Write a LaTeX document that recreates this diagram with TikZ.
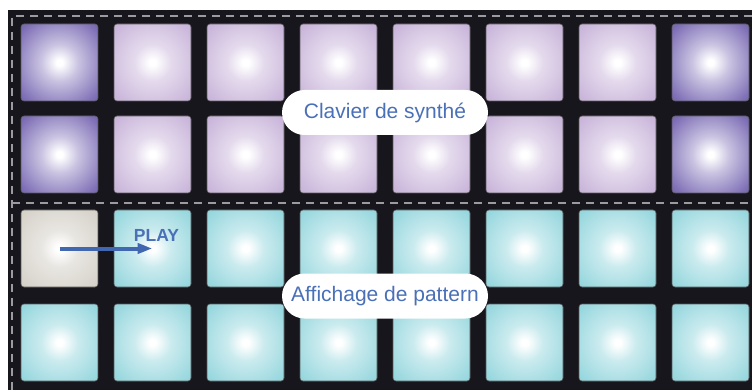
\documentclass[tikz,border=0pt]{standalone}
\usepackage{fontspec}
\setmainfont{Liberation Sans}
\usetikzlibrary{arrows.meta}
\definecolor{bgdark}{HTML}{16161C}
\definecolor{cdark}{HTML}{7A6AB4}
\definecolor{clilac}{HTML}{C9B5DA}
\definecolor{ccyan}{HTML}{96D7DE}
\definecolor{cgrey}{HTML}{D6D2CA}
\definecolor{txtblue}{HTML}{4A70B8}
\definecolor{arrblue}{HTML}{4067B0}
\definecolor{dashgrey}{HTML}{9C9CA0}
\pgfdeclareradialshading{shdark}{\pgfpoint{0bp}{0bp}}{color(0bp)=(white); color(2bp)=(white); color(12bp)=(cdark!40!white); color(33bp)=(cdark); color(50bp)=(cdark)}
\pgfdeclareradialshading{shlilac}{\pgfpoint{0bp}{0bp}}{color(0bp)=(white); color(2bp)=(white); color(12bp)=(clilac!50!white); color(33bp)=(clilac); color(50bp)=(clilac)}
\pgfdeclareradialshading{shcyan}{\pgfpoint{0bp}{0bp}}{color(0bp)=(white); color(2bp)=(white); color(12bp)=(ccyan!50!white); color(33bp)=(ccyan); color(50bp)=(ccyan)}
\pgfdeclareradialshading{shgrey}{\pgfpoint{0bp}{0bp}}{color(0bp)=(white); color(2bp)=(white); color(12bp)=(cgrey!55!white); color(33bp)=(cgrey); color(50bp)=(cgrey)}
\tikzset{
  pad/.style={minimum width=77pt, minimum height=77pt, inner sep=0pt, rounded corners=3pt, draw=gray!70!black, line width=0.6pt},
  pdark/.style={pad, shading=shdark},
  plilac/.style={pad, shading=shlilac},
  pcyan/.style={pad, shading=shcyan},
  pgrey/.style={pad, shading=shgrey},
  pill/.style={fill=white, rounded corners=22.5pt, minimum width=206pt, minimum height=45pt, inner sep=0pt, text=txtblue, font=\fontsize{21}{24}\selectfont},
  sep/.style={draw=dashgrey, line width=1.4pt, dash pattern=on 8pt off 6pt}
}
\begin{document}
\begin{tikzpicture}[x=1pt, y=-1pt]
\useasboundingbox (0,0) rectangle (752,390);
\fill[bgdark] (8,10) rectangle (752,390);
\coordinate (tl) at (12,16);
\coordinate (tr) at (752,16);
\coordinate (bl) at (12,390);
\coordinate (ml) at (12,203);
\coordinate (mr) at (752,203);
\draw[sep] (tr) -- (tl) -- (bl);
\draw[sep] (ml) -- (mr);
% row 1 and 2
\foreach \r/\y in {1/62.5, 2/154.5}{
  \node[pdark] (p-\r-1) at (59.5,\y) {};
  \foreach \c in {2,...,7}{
    \node[plilac] (p-\r-\c) at ({59.5+93*(\c-1)},\y) {};
  }
  \node[pdark] (p-\r-8) at ({59.5+93*7},\y) {};
}
% row 3
\node[pgrey] (p-3-1) at (59.5,248.5) {};
\foreach \c in {2,...,8}{
  \node[pcyan] (p-3-\c) at ({59.5+93*(\c-1)},248.5) {};
}
% row 4
\foreach \c in {1,...,8}{
  \node[pcyan] (p-4-\c) at ({59.5+93*(\c-1)},342.5) {};
}
\draw[arrblue, line width=4pt, -{Triangle[length=15pt, width=10pt]}] (p-3-1.center) -- (p-3-2.center);
\node[text=txtblue, font=\fontsize{17.5}{20}\selectfont\bfseries] (play) at (156.5,235) {PLAY};
\node[pill] (clav) at (385,112.5) {Clavier de synthé};
\node[pill] (aff) at (385,296) {Affichage de pattern};
\end{tikzpicture}
\end{document}
